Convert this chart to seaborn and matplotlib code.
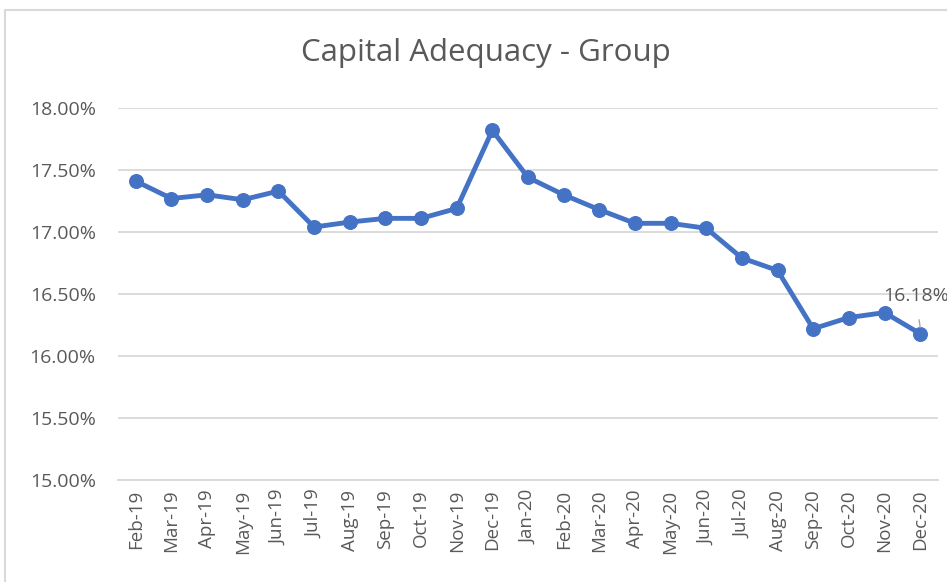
import matplotlib
matplotlib.use('Agg')
import matplotlib.pyplot as plt
import seaborn as sns
import pandas as pd
from matplotlib.patches import Rectangle
from matplotlib.ticker import FuncFormatter, FixedLocator

months = ['Feb-19', 'Mar-19', 'Apr-19', 'May-19', 'Jun-19', 'Jul-19', 'Aug-19',
          'Sep-19', 'Oct-19', 'Nov-19', 'Dec-19', 'Jan-20', 'Feb-20', 'Mar-20',
          'Apr-20', 'May-20', 'Jun-20', 'Jul-20', 'Aug-20', 'Sep-20', 'Oct-20',
          'Nov-20', 'Dec-20']
capital_adequacy = [17.41, 17.27, 17.30, 17.26, 17.33, 17.04, 17.08, 17.11, 17.11,
                    17.19, 17.82, 17.44, 17.30, 17.18, 17.07, 17.07, 17.03, 16.79,
                    16.69, 16.22, 16.31, 16.35, 16.18]
y_ticks = [15.0, 15.5, 16.0, 16.5, 17.0, 17.5, 18.0]

sns.set_style('white')
plt.rcParams['font.family'] = ['Open Sans', 'DejaVu Sans']

df = pd.DataFrame({'pos': range(len(months)), 'value': capital_adequacy})

fig = plt.figure(figsize=(9.47, 5.82), dpi=100)
# chart frame, cut off on the right and bottom like the screenshot
fig.patches.append(Rectangle((5 / 947, -0.05), 1.2, 1.05 - 10 / 582, transform=fig.transFigure,
                             fill=False, edgecolor='#d9d9d9', linewidth=1.5))
ax = fig.add_axes([118 / 947, 1 - 480 / 582, (938 - 118) / 947, (480 - 108) / 582])

sns.lineplot(data=df, x='pos', y='value', ax=ax, color='#4472c4', linewidth=3.5,
             marker='o', markersize=10, markeredgecolor='#4472c4', clip_on=False)

ax.set_xlim(-0.5, len(months) - 0.5)
ax.set_ylim(15.0, 18.0)
ax.set_yticks(y_ticks)
ax.yaxis.set_major_formatter(FuncFormatter(lambda v, p: f'{v:.2f}%'))
ax.set_xticks(range(len(months)))
ax.set_xticklabels(months, rotation=90)
ax.xaxis.set_minor_locator(FixedLocator([i - 0.5 for i in range(len(months) + 1)]))
ax.tick_params(axis='x', which='major', length=0, pad=7, labelsize=13.5, colors='#595959')
ax.tick_params(axis='x', which='minor', length=5, width=1.2, color='#d9d9d9')
ax.tick_params(axis='y', length=0, pad=16, labelsize=14, colors='#595959')
ax.grid(axis='y', color='#d9d9d9', linewidth=1.3)
for s in ['top', 'right', 'left']:
    ax.spines[s].set_visible(False)
ax.spines['bottom'].set_color('#d9d9d9')
ax.spines['bottom'].set_linewidth(1.3)
ax.set_xlabel('')
ax.set_ylabel('')

fig.text(486 / 947, 1 - 53 / 582, 'Capital Adequacy - Group', ha='center', va='center',
         fontsize=22.5, color='#595959')

last = len(months) - 1
ax.annotate(f'{capital_adequacy[last]:.2f}%', xy=(last, capital_adequacy[last] + 0.05),
            xytext=(last - 1.05, capital_adequacy[last] + 0.30), fontsize=14,
            color='#595959', ha='left', va='center', annotation_clip=False,
            arrowprops=dict(arrowstyle='-', color='#a6a6a6', lw=1,
                            shrinkA=8, shrinkB=0))

fig.savefig('out.png', dpi=100)
